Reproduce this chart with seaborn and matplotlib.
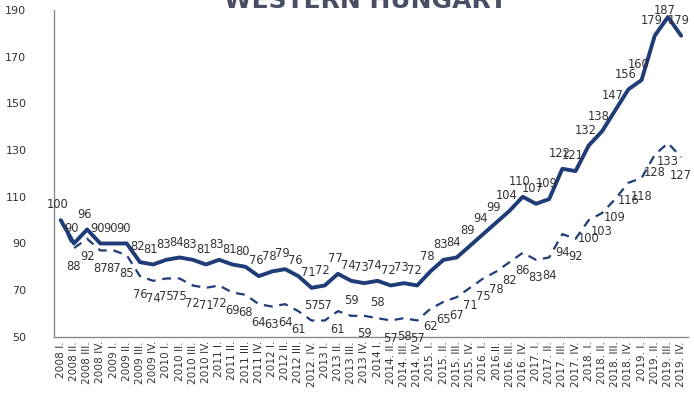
import pandas as pd
import matplotlib
matplotlib.use("Agg")
import matplotlib.pyplot as plt
import seaborn as sns

# quarters 2008 I. - 2019 IV.
quarters = [
    "2008 I.", "2008 II.", "2008 III.", "2008 IV.",
    "2009 I.", "2009 II.", "2009 III.", "2009 IV.",
    "2010 I.", "2010 II.", "2010 III.", "2010 IV.",
    "2011 I.", "2011 II.", "2011 III.", "2011 IV.",
    "2012 I.", "2012 II.", "2012 III.", "2012. IV.",
    "2013 I.", "2013 II.", "2013 III.", "2013 IV.",
    "2014 I.", "2014. II.", "2014. III.", "2014. IV.",
    "2015. I.", "2015. II.", "2015. III.", "2015. IV.",
    "2016. I.", "2016.II.", "2016. III.", "2016. IV.",
    "2017. I.", "2017. II.", "2017. III.", "2017. IV.",
    "2018. I.", "2018. II.", "2018. III.", "2018. IV.",
    "2019. I.", "2019. II.", "2019. III.", "2019. IV.",
]

solid_vals = [100, 90, 96, 90, 90, 90, 82, 81, 83, 84, 83, 81,
              83, 81, 80, 76, 78, 79, 76, 71, 72, 77, 74, 73,
              74, 72, 73, 72, 78, 83, 84, 89, 94, 99, 104, 110,
              107, 109, 122, 121, 132, 138, 147, 156, 160, 179, 187, 179]

dashed_vals = [100, 88, 92, 87, 87, 85, 76, 74, 75, 75, 72, 71,
               72, 69, 68, 64, 63, 64, 61, 57, 57, 61, 59, 59,
               58, 57, 58, 57, 62, 65, 67, 71, 75, 78, 82, 86,
               83, 84, 94, 92, 100, 103, 109, 116, 118, 128, 133, 127]

# dashed labels that sit above the line in the original
dashed_above = [19, 20, 22, 24]

navy = "#1f3c78"
txt = "#333333"

sns.set_style("white")
plt.rcParams['font.family'] = ['DejaVu Sans']

df = pd.DataFrame({"x": range(len(quarters)), "solid": solid_vals, "dashed": dashed_vals})

fig = plt.figure(figsize=(6.94, 4.01), dpi=100)
ax = fig.add_axes([0.078, 0.160, 0.913, 0.815])

sns.lineplot(data=df, x="x", y="solid", ax=ax, color=navy, linewidth=2.8)
sns.lineplot(data=df, x="x", y="dashed", ax=ax, color=navy, linewidth=1.6,
             linestyle=(0, (4, 3)))

for i, v in enumerate(solid_vals):
    dy = 5 if v == max(solid_vals) else 11
    ax.annotate(str(v), (i, v), xytext=(-2, dy), textcoords="offset points",
                ha="center", va="center", fontsize=8.3, color=txt)

for i, v in enumerate(dashed_vals):
    if i == 0:
        continue
    off = 11 if i in dashed_above else -13
    ax.annotate(str(v), (i, v), xytext=(0, off), textcoords="offset points",
                ha="center", va="center", fontsize=8.3, color=txt)

ax.set_xlim(-0.5, len(quarters) - 0.5)
ax.set_ylim(50, 190)
ax.set_yticks(range(50, 191, 20))
ax.set_xticks(range(len(quarters)))
ax.set_xticklabels(quarters, rotation=90, fontsize=7.6, color=txt)
ax.tick_params(axis="y", labelsize=8, labelcolor=txt, length=0, pad=20)
ax.tick_params(axis="x", length=0, pad=3)
ax.set_xlabel("")
ax.set_ylabel("")

sns.despine(ax=ax, top=True, right=True)
for s in ["left", "bottom"]:
    ax.spines[s].set_color("#8a8a8a")
    ax.spines[s].set_linewidth(1)

fig.text(0.527, 0.98, "WESTERN HUNGARY", ha="center", va="baseline",
         fontsize=18, fontweight="bold", color="#4a4e64")

fig.savefig("out.png", dpi=100)
